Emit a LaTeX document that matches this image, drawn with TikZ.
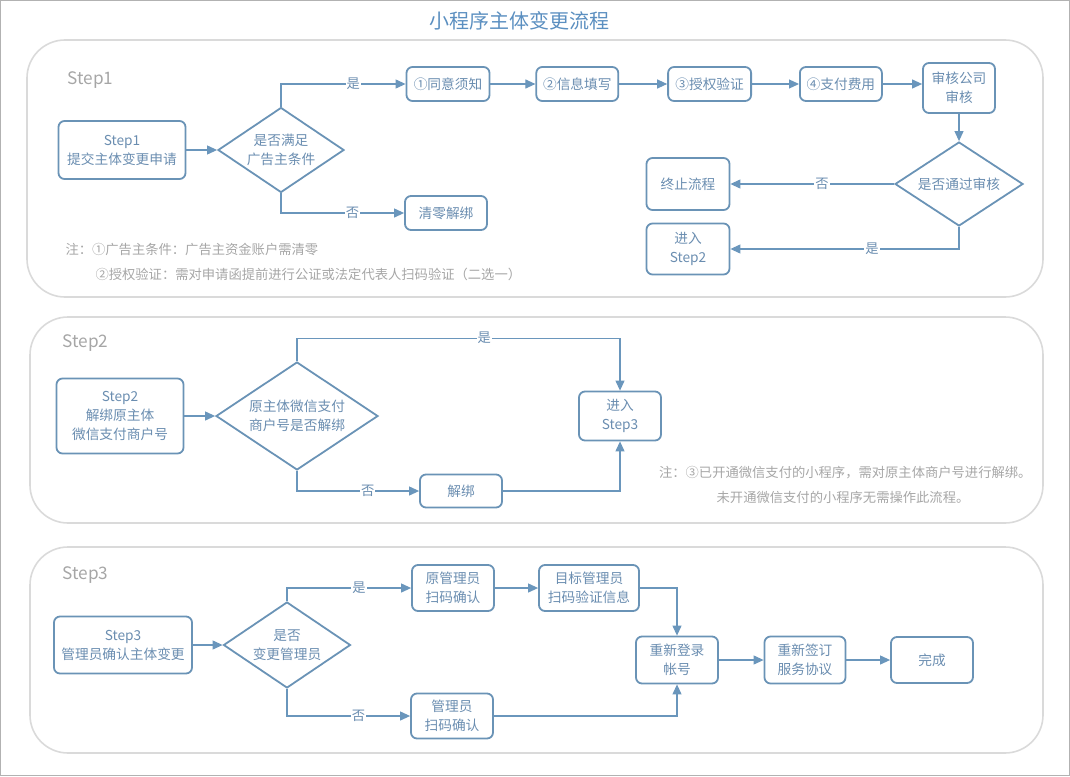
\documentclass[tikz,border=0pt]{standalone}
\usepackage{fontspec}
\setmainfont{Noto Sans CJK SC}
\usetikzlibrary{shapes.geometric,arrows.meta,positioning}
\definecolor{boxblue}{HTML}{6A93B6}
\definecolor{txtblue}{HTML}{6A8DB0}
\definecolor{lineblue}{HTML}{6A96BC}
\definecolor{titleblue}{HTML}{5B8FC0}
\definecolor{panelgray}{HTML}{DADADA}
\definecolor{notegray}{HTML}{A6A6A6}

\begin{document}
\begin{tikzpicture}[x=1pt,y=-1pt,
  every node/.style={font=\fontsize{13.7}{19}\selectfont,text=txtblue},
  sz/.style 2 args={minimum width=#1pt,minimum height=#2pt},
  stepbox/.style={draw=boxblue,line width=1.8pt,rounded corners=6pt,align=center,inner sep=0pt},
  decide/.style={diamond,draw=boxblue,line width=1.8pt,align=center,inner sep=0pt,aspect=1.5},
  panel/.style={draw=panelgray,line width=1.6pt,rounded corners=38pt},
  steptitle/.style={anchor=west,text=notegray,font=\fontsize{17.2}{19}\selectfont},
  note/.style={text=notegray,font=\fontsize{13.3}{15}\selectfont},
  lab/.style={fill=white,inner sep=1pt,font=\fontsize{13.3}{15}\selectfont},
  conn/.style={-{Triangle[length=10pt,width=9pt]},color=lineblue,line width=1.1pt},
  node distance=46pt]
\useasboundingbox (0,0) rectangle (1070,776);
\draw[gray!60,line width=1pt] (0.5,0.5) rectangle (1069.5,775.5);
\node[font=\fontsize{20}{22}\selectfont,text=titleblue] (title) at (519,21) {小程序主体变更流程};

% panels
\draw[panel] (27,40) rectangle (1043,297);
\draw[panel] (30,317) rectangle (1043,523);
\draw[panel] (30,547) rectangle (1043,753);
\node[steptitle] (t1) at (64,80) {Step1};
\node[steptitle] (t2) at (59,343) {Step2};
\node[steptitle] (t3) at (59,575) {Step3};

% Step1
\node[stepbox,sz={127}{58}] (apply) at (122,150) {Step1\\提交主体变更申请};
\node[decide,sz={126}{85}] (cond) at (281,150) {是否满足\\广告主条件};
\node[stepbox,sz={83}{34}] (agree) at (448,84) {①同意须知};
\node[stepbox,sz={82}{34}] (fill) [right=45pt of agree] {②信息填写};
\node[stepbox,sz={83}{34}] (auth) [right=48pt of fill] {③授权验证};
\node[stepbox,sz={82}{34}] (pay) [right=47pt of auth] {④支付费用};
\node[stepbox,sz={72}{50}] (audit) at (959,88) {审核公司\\审核};
\node[decide,sz={128}{84}] (pass) at (959,184) {是否通过审核};
\node[stepbox,sz={83}{52}] (stop) at (688,184) {终止流程};
\node[stepbox,sz={83}{51}] (enter2) at (688,249) {进入\\Step2};
\node[stepbox,sz={82}{34}] (clear) at (446,213) {清零解绑};
\node[note,anchor=west] (n1) at (62,249) {注：①广告主条件：广告主资金账户需清零};
\node[note,anchor=west] (n2) at (92,274) {②授权验证：需对申请函提前进行公证或法定代表人扫码验证（二选一）};

\path[conn]
  (apply) edge (cond)
  (agree) edge (fill)
  (fill) edge (auth)
  (auth) edge (pay)
  (audit) edge (pass)
  (pass) edge node[lab,pos=0.44] {否} (stop);
\draw[conn] (pay) -- (pay -| audit.west);
\draw[conn] (cond.north) |- node[lab,pos=0.79] {是} (agree.west);
\draw[conn] (cond.south) |- node[lab,pos=0.79] {否} (clear.west);
\draw[conn] (pass.south) |- node[lab,pos=0.69] {是} (enter2.east);

% Step2
\node[stepbox,sz={127}{75}] (unbindapply) at (120,416) {Step2\\解绑原主体\\微信支付商户号};
\node[decide,sz={162}{108}] (paid) at (297,416) {原主体微信支付\\商户号是否解绑};
\node[stepbox,sz={82}{49}] (enter3) at (620,416) {进入\\Step3};
\node[stepbox,sz={82}{33}] (unbind) at (461,491) {解绑};
\node[note,anchor=east] (n3) at (1035,473) {注：③已开通微信支付的小程序，需对原主体商户号进行解绑。};
\node[note] (n4) at (843,497) {未开通微信支付的小程序无需操作此流程。};

\path[conn] (unbindapply) edge (paid);
\draw[conn] (paid.north) -- ++(0,-23) -| node[lab,pos=0.29] {是} (enter3.north);
\draw[conn] (paid.south) |- node[lab,pos=0.79] {否} (unbind.west);
\draw[conn] (unbind.east) -| (enter3.south);

% Step3
\node[stepbox,sz={138}{57}] (confirm) at (123,645) {Step3\\管理员确认主体变更};
\node[decide,sz={127}{86}] (change) at (287,645) {是否\\变更管理员};
\node[stepbox,sz={82}{46}] (oldadmin) at (453,588) {原管理员\\扫码确认};
\node[stepbox,sz={100}{46}] (newadmin) at (589,588) {目标管理员\\扫码验证信息};
\node[stepbox,sz={82}{45}] (admin) at (452,716) {管理员\\扫码确认};
\node[stepbox,sz={82}{47}] (relogin) at (677,660) {重新登录\\帐号};
\node[stepbox,sz={81}{47}] (resign) at (805,660) {重新签订\\服务协议};
\node[stepbox,sz={82}{46}] (done) at (932,660) {完成};

\path[conn]
  (confirm) edge (change)
  (oldadmin) edge (newadmin)
  (relogin) edge (resign)
  (resign) edge (done);
\draw[conn] (change.north) |- node[lab,pos=0.79] {是} (oldadmin.west);
\draw[conn] (change.south) |- node[lab,pos=0.79] {否} (admin.west);
\draw[conn] (newadmin.east) -| (relogin.north);
\draw[conn] (admin.east) -| (relogin.south);
\end{tikzpicture}
\end{document}
